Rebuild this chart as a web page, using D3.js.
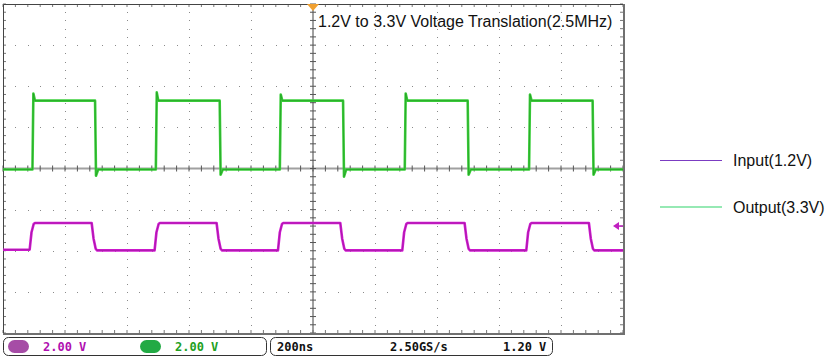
<!DOCTYPE html>
<html>
<head>
<meta charset="utf-8">
<script src="https://cdn.jsdelivr.net/npm/d3@7"></script>
<style>
  body { margin: 0; background: #fff; }
  svg { display: block; }
</style>
</head>
<body>
<div id="chart-area"></div>
<script>
// waveform vertices: [time (ns), volts]
const outputTrace = [
  [-1000, -0.05], [-905, -0.05], [-902, 3.65], [-897, 3.3], [-703, 3.3], [-700, -0.35], [-693, -0.05],
  [-507, -0.05], [-504, 3.7], [-499, 3.3], [-301, 3.3], [-298, -0.3], [-291, -0.05],
  [-107, -0.05], [-104, 3.6], [-99, 3.3], [97, 3.3], [100, -0.4], [107, -0.05],
  [296, -0.05], [299, 3.65], [304, 3.3], [499, 3.3], [502, -0.3], [509, -0.05],
  [697, -0.05], [700, 3.6], [705, 3.3], [902, 3.3], [905, -0.3], [912, -0.05], [1000, -0.05]
];
const inputTrace = [
  [-1000, 0.05], [-914, 0.05], [-908, 0.9], [-901, 1.3], [-897, 1.35],
  [-714, 1.35], [-708, 0.6], [-701, 0.1], [-697, 0.02],
  [-511, 0.02], [-505, 0.9], [-498, 1.3], [-494, 1.35],
  [-311, 1.35], [-305, 0.6], [-298, 0.1], [-294, 0.02],
  [-113, 0.02], [-107, 0.9], [-100, 1.3], [-96, 1.35],
  [88, 1.35], [94, 0.6], [101, 0.1], [105, 0.02],
  [288, 0.02], [294, 0.9], [301, 1.3], [305, 1.35],
  [489, 1.35], [495, 0.6], [502, 0.1], [506, 0.02],
  [688, 0.02], [694, 0.9], [701, 1.3], [705, 1.35],
  [890, 1.35], [896, 0.6], [903, 0.1], [907, 0.02], [1000, 0.02]
];

const legendNames = ["Input(1.2V)", "Output(3.3V)"];
const legendColors = ["#7b3cc2", "#2fd36a"];
const channelScale = ["2.00 V", "2.00 V"];
const timeBase = "200ns";
const sampleRate = "2.50GS/s";
const triggerLevel = "1.20 V";
const title = "1.2V to 3.3V Voltage Translation(2.5MHz)";

const PLOT = { LEFT: 3, TOP: 4, RIGHT: 623, BOTTOM: 333 };

const svg = d3.select("#chart-area").append("svg")
    .attr("width", 831)
    .attr("height", 359);

const x = d3.scaleLinear().domain([-1000, 1000]).range([PLOT.LEFT, PLOT.RIGHT]);
const y = d3.scaleLinear().domain([-4, 4]).range([PLOT.BOTTOM, PLOT.TOP]);

// volts -> divisions (2 V/div), channel offsets in divisions
const yOut = v => y(v / 2);
const yIn = v => y(v / 2 - 2);

const xDivs = d3.range(-800, 1000, 200).filter(d => d !== 0);
const yDivs = d3.range(-3, 4, 1).filter(d => d !== 0);
const xMinor = d3.range(-1000, 1001, 40);
const yMinor = d3.range(-20, 21).map(d => d / 5);

const grid = svg.append("g");

// dotted graticule
xDivs.forEach(t => {
  grid.selectAll(null).data(yMinor).enter().append("rect")
      .attr("x", Math.round(x(t))).attr("y", d => Math.round(y(d)))
      .attr("width", 1).attr("height", 1).attr("fill", "#8a8a8a");
});
yDivs.forEach(v => {
  grid.selectAll(null).data(xMinor).enter().append("rect")
      .attr("x", d => Math.round(x(d))).attr("y", Math.round(y(v)))
      .attr("width", 1).attr("height", 1).attr("fill", "#8a8a8a");
});

// center axes
grid.append("line").attr("x1", x(0)).attr("x2", x(0)).attr("y1", PLOT.TOP).attr("y2", PLOT.BOTTOM)
    .attr("stroke", "#a0a0a0").attr("stroke-width", 2);
grid.append("line").attr("x1", PLOT.LEFT).attr("x2", PLOT.RIGHT).attr("y1", y(0)).attr("y2", y(0))
    .attr("stroke", "#a0a0a0").attr("stroke-width", 2);
grid.selectAll(null).data(yMinor).enter().append("line")
    .attr("x1", x(0) - 3).attr("x2", x(0) + 3).attr("y1", d => y(d)).attr("y2", d => y(d))
    .attr("stroke", "#555").attr("stroke-width", 1);
grid.selectAll(null).data(xMinor).enter().append("line")
    .attr("x1", d => x(d)).attr("x2", d => x(d)).attr("y1", y(0) - 3).attr("y2", y(0) + 3)
    .attr("stroke", "#555").attr("stroke-width", 1);

// edge ticks
grid.selectAll(null).data(xMinor).enter().append("line")
    .attr("x1", d => x(d)).attr("x2", d => x(d)).attr("y1", PLOT.TOP).attr("y2", PLOT.TOP + 3)
    .attr("stroke", "#777");
grid.selectAll(null).data(xMinor).enter().append("line")
    .attr("x1", d => x(d)).attr("x2", d => x(d)).attr("y1", PLOT.BOTTOM - 3).attr("y2", PLOT.BOTTOM)
    .attr("stroke", "#777");
grid.selectAll(null).data(yMinor).enter().append("line")
    .attr("x1", PLOT.LEFT).attr("x2", PLOT.LEFT + 3).attr("y1", d => y(d)).attr("y2", d => y(d))
    .attr("stroke", "#777");
grid.selectAll(null).data(yMinor).enter().append("line")
    .attr("x1", PLOT.RIGHT - 3).attr("x2", PLOT.RIGHT).attr("y1", d => y(d)).attr("y2", d => y(d))
    .attr("stroke", "#777");

// frame
grid.append("path")
    .attr("d", `M${PLOT.LEFT + 0.5},${PLOT.BOTTOM}V${PLOT.TOP + 0.5}H${PLOT.RIGHT}`)
    .attr("fill", "none").attr("stroke", "#444");
grid.append("path")
    .attr("d", `M${PLOT.LEFT},${PLOT.BOTTOM + 1}H${PLOT.RIGHT + 1}V${PLOT.TOP}`)
    .attr("fill", "none").attr("stroke", "#707070").attr("stroke-width", 2);

// traces
const line = (fy) => d3.line().x(d => x(d[0])).y(d => fy(d[1]));

svg.append("path").datum(outputTrace)
    .attr("d", line(yOut)).attr("fill", "none")
    .attr("stroke", "#3ccf3c").attr("stroke-width", 2.6).attr("stroke-linejoin", "round");
svg.append("path").datum(outputTrace)
    .attr("d", line(yOut)).attr("fill", "none")
    .attr("stroke", "#1b8f1b").attr("stroke-width", 0.8).attr("opacity", 0.7);

svg.append("path").datum(inputTrace)
    .attr("d", line(yIn)).attr("fill", "none")
    .attr("stroke", "#d21ad2").attr("stroke-width", 2.6).attr("stroke-linejoin", "round");
svg.append("path").datum(inputTrace)
    .attr("d", line(yIn)).attr("fill", "none")
    .attr("stroke", "#8a1a8a").attr("stroke-width", 0.8).attr("opacity", 0.7);

// trigger position and level markers
svg.append("path")
    .attr("d", `M${x(0) - 6},${PLOT.TOP}L${x(0) + 6},${PLOT.TOP}L${x(0)},${PLOT.TOP + 7}Z`)
    .attr("fill", "#f0a030");
const trigY = yIn(1.2);
svg.append("path")
    .attr("d", `M${PLOT.RIGHT - 10},${trigY}L${PLOT.RIGHT - 4},${trigY - 4}L${PLOT.RIGHT - 4},${trigY + 4}Z`)
    .attr("fill", "#c020c0");
svg.append("line")
    .attr("x1", PLOT.RIGHT - 5).attr("x2", PLOT.RIGHT).attr("y1", trigY).attr("y2", trigY)
    .attr("stroke", "#c020c0").attr("stroke-width", 1.5);

// title
svg.append("text")
    .attr("x", 318).attr("y", 27)
    .attr("font-family", "Liberation Sans, Arial, sans-serif")
    .attr("font-size", "16px").attr("fill", "#111")
    .text(title);

// legend
const legend = svg.append("g");
legendNames.forEach((name, i) => {
  const row = legend.append("g").attr("transform", `translate(660, ${160.5 + i * 46.5})`);
  row.append("line").attr("x1", 0).attr("x2", 62).attr("stroke", legendColors[i]).attr("stroke-width", 1.2);
  row.append("text").attr("x", 73).attr("y", 5.5)
      .attr("font-family", "Liberation Sans, Arial, sans-serif")
      .attr("font-size", "16px").attr("fill", "#111")
      .text(name);
});

// status bar
const bar = svg.append("g");
bar.append("rect").attr("x", 3.5).attr("y", 337.5).attr("width", 263).attr("height", 18).attr("rx", 5)
    .attr("fill", "none").attr("stroke", "#333");
bar.append("rect").attr("x", 270.5).attr("y", 337.5).attr("width", 282).attr("height", 18).attr("rx", 5)
    .attr("fill", "none").attr("stroke", "#333");
bar.append("rect").attr("x", 8).attr("y", 340).attr("width", 21).attr("height", 13).attr("rx", 6.5)
    .attr("fill", "#a64ca6");
bar.append("rect").attr("x", 140).attr("y", 340).attr("width", 21).attr("height", 13).attr("rx", 6.5)
    .attr("fill", "#22aa44");

const barText = (tx, txt, color) => bar.append("text")
    .attr("x", tx).attr("y", 351)
    .attr("font-family", "DejaVu Sans Mono, monospace")
    .attr("font-size", "12px").attr("font-weight", 600).attr("fill", color)
    .text(txt);
barText(43, channelScale[0], "#b010b0");
barText(175, channelScale[1], "#22a022");
barText(277, timeBase, "#111");
barText(390, sampleRate, "#111");
barText(503, triggerLevel, "#111");
</script>
</body>
</html>
